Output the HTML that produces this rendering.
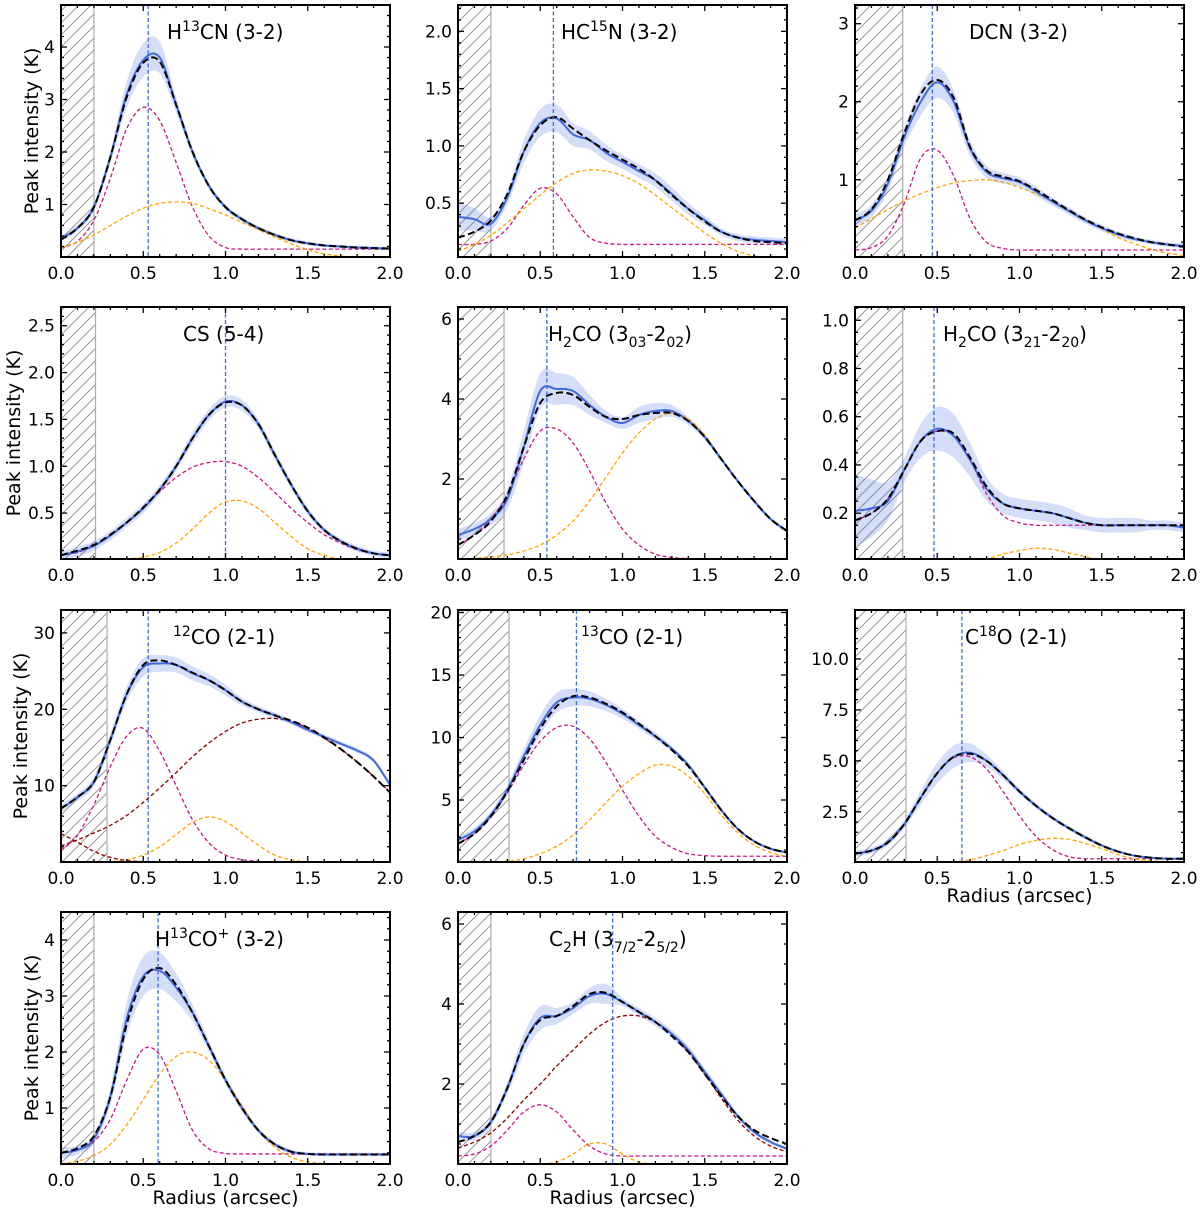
<!DOCTYPE html>
<html><head><meta charset="utf-8"><style>
html,body{margin:0;padding:0;background:#fff;}
svg{display:block;font-family:"DejaVu Sans","Liberation Sans",sans-serif;}
</style></head>
<body>
<svg id="fig" width="1200" height="1212" viewBox="0 0 1200 1212" xmlns="http://www.w3.org/2000/svg">
<defs>
<pattern id="hatch" patternUnits="userSpaceOnUse" width="12" height="12">
<path d="M-3,15 L15,-3 M-3,3 L3,-3 M9,15 L15,9" stroke="#999" stroke-width="1" fill="none"/>
</pattern>
</defs>
</svg>
<script>
// shared radius grid (arcsec)
const radius = [0,0.1,0.2,0.3,0.4,0.5,0.6,0.7,0.8,0.9,1.0,1.1,1.2,1.3,1.4,1.5,1.6,1.7,1.8,1.9,2.0];
const xTicks = [0,0.5,1.0,1.5,2.0];
const xTickLabels = ["0.0","0.5","1.0","1.5","2.0"];

// H13CN (3-2)
const h13cn_obs = [0.35,0.55,0.95,1.9,3.1,3.75,3.8,2.9,2.0,1.35,0.95,0.72,0.55,0.42,0.32,0.26,0.22,0.2,0.18,0.17,0.16];
const h13cn_fit = [0.33,0.55,0.95,1.9,3.05,3.7,3.72,2.9,2.0,1.35,0.95,0.72,0.55,0.42,0.32,0.26,0.22,0.2,0.18,0.17,0.16];
const h13cn_c1 = [0.17,0.3,0.7,1.5,2.45,2.85,2.6,1.8,0.95,0.4,0.18,0.15,0.15,0.15,0.15,0.15,0.15,0.15,0.15,0.15,0.15];
const h13cn_c2 = [0.18,0.28,0.42,0.6,0.78,0.93,1.02,1.05,1.02,0.92,0.8,0.66,0.52,0.38,0.25,0.14,0.06,0.02,0,0,0];
const h13cn_err = [0.05,0.06,0.08,0.12,0.25,0.32,0.3,0.15,0.08,0.06,0.05,0.05,0.04,0.04,0.04,0.04,0.03,0.03,0.03,0.03,0.03];
// HC15N (3-2)
const hc15n_obs = [0.38,0.36,0.32,0.55,0.95,1.2,1.24,1.1,1.05,0.94,0.86,0.78,0.7,0.58,0.45,0.35,0.25,0.2,0.18,0.17,0.16];
const hc15n_fit = [0.2,0.25,0.35,0.58,0.95,1.18,1.25,1.15,1.05,0.96,0.88,0.8,0.7,0.57,0.45,0.34,0.25,0.2,0.17,0.16,0.15];
const hc15n_c1 = [0.14,0.14,0.17,0.28,0.48,0.63,0.58,0.38,0.2,0.15,0.14,0.14,0.14,0.14,0.14,0.14,0.14,0.14,0.14,0.14,0.14];
const hc15n_c2 = [0.08,0.14,0.22,0.33,0.45,0.57,0.68,0.76,0.79,0.78,0.74,0.67,0.57,0.46,0.35,0.24,0.15,0.08,0.04,0.02,0.01];
const hc15n_err = [0.12,0.1,0.06,0.06,0.1,0.12,0.12,0.1,0.08,0.07,0.06,0.06,0.06,0.06,0.05,0.04,0.03,0.03,0.03,0.03,0.03];
// DCN (3-2)
const dcn_obs = [0.48,0.6,0.95,1.55,2.0,2.25,2.0,1.4,1.1,1.02,0.97,0.85,0.72,0.6,0.48,0.38,0.3,0.24,0.2,0.17,0.15];
const dcn_fit = [0.48,0.62,1.0,1.6,2.1,2.28,2.05,1.42,1.12,1.04,0.98,0.87,0.74,0.61,0.49,0.39,0.31,0.25,0.2,0.17,0.14];
const dcn_c1 = [0.1,0.13,0.28,0.7,1.28,1.38,1.05,0.5,0.2,0.12,0.1,0.1,0.1,0.1,0.1,0.1,0.1,0.1,0.1,0.1,0.1];
const dcn_c2 = [0.38,0.5,0.62,0.73,0.82,0.9,0.96,0.99,1.0,0.97,0.9,0.82,0.72,0.6,0.48,0.37,0.26,0.18,0.11,0.06,0.03];
const dcn_err = [0.08,0.08,0.1,0.12,0.18,0.2,0.15,0.1,0.08,0.07,0.06,0.06,0.05,0.05,0.04,0.04,0.04,0.03,0.03,0.03,0.03];
// CS (5-4)
const cs_obs = [0.05,0.09,0.15,0.26,0.4,0.55,0.75,1.0,1.3,1.55,1.69,1.65,1.45,1.12,0.8,0.52,0.32,0.2,0.12,0.07,0.05];
const cs_fit = [0.05,0.1,0.16,0.27,0.4,0.56,0.75,1.0,1.3,1.55,1.68,1.65,1.45,1.12,0.8,0.52,0.32,0.2,0.12,0.07,0.05];
const cs_c1 = [0.05,0.08,0.15,0.26,0.4,0.56,0.73,0.88,0.99,1.04,1.05,1.0,0.88,0.72,0.55,0.4,0.27,0.18,0.11,0.07,0.05];
const cs_c2 = [0,0,0,0,0.01,0.03,0.08,0.18,0.33,0.5,0.62,0.63,0.55,0.4,0.25,0.12,0.05,0.01,0,0,0];
const cs_err = [0.04,0.05,0.05,0.05,0.05,0.05,0.05,0.05,0.06,0.06,0.06,0.06,0.05,0.05,0.04,0.04,0.03,0.03,0.03,0.03,0.03];
// H2CO (3_03-2_02)
const h2coa_obs = [0.6,0.75,1.0,1.5,2.8,4.2,4.25,4.2,3.85,3.55,3.4,3.6,3.7,3.7,3.45,3.05,2.5,1.95,1.45,1.0,0.7];
const h2coa_fit = [0.35,0.6,0.95,1.6,2.8,3.9,4.15,4.1,3.8,3.55,3.5,3.6,3.65,3.65,3.45,3.05,2.5,1.95,1.45,1.0,0.7];
const h2coa_c1 = [0.35,0.6,1.0,1.6,2.5,3.2,3.25,2.9,2.2,1.4,0.75,0.35,0.12,0.04,0.01,0,0,0,0,0,0];
const h2coa_c2 = [0,0.02,0.05,0.1,0.2,0.35,0.6,0.95,1.45,2.05,2.65,3.15,3.5,3.65,3.5,3.1,2.5,1.95,1.45,1.0,0.7];
const h2coa_err = [0.15,0.15,0.15,0.25,0.4,0.45,0.4,0.35,0.25,0.15,0.15,0.2,0.2,0.15,0.1,0.08,0.06,0.05,0.05,0.05,0.05];
// H2CO (3_21-2_20)
const h2cob_obs = [0.21,0.22,0.25,0.38,0.5,0.55,0.52,0.42,0.3,0.24,0.22,0.21,0.2,0.18,0.16,0.15,0.15,0.15,0.15,0.15,0.14];
const h2cob_fit = [0.17,0.2,0.26,0.38,0.5,0.54,0.53,0.43,0.31,0.24,0.22,0.21,0.2,0.18,0.16,0.15,0.15,0.15,0.15,0.15,0.15];
const h2cob_c1 = [0.17,0.2,0.26,0.38,0.5,0.54,0.52,0.42,0.28,0.19,0.16,0.15,0.15,0.15,0.15,0.15,0.15,0.15,0.15,0.15,0.15];
const h2cob_c2 = [0,0,0,0,0,0,0,0,0.01,0.03,0.045,0.055,0.05,0.035,0.02,0.005,0,0,0,0,0];
const h2cob_err = [0.15,0.12,0.08,0.05,0.07,0.09,0.09,0.07,0.05,0.04,0.04,0.04,0.04,0.04,0.03,0.03,0.03,0.03,0.02,0.02,0.02];
// 12CO (2-1)
const co12_obs = [7,8.5,10.5,16,22,25.5,26,25.8,24.7,23.8,22.5,21,20,19.2,18.3,17.3,16.4,15.5,14.6,13.3,10.1];
const co12_fit = [7,8.5,10.5,16,22,25.8,26.4,25.8,24.8,23.8,22.5,21,20,19.2,18.5,17.6,16.3,14.8,13.1,11.2,9.1];
const co12_c1 = [1.5,3.5,7.5,12.5,16.5,17.5,14.5,10,5.5,2.5,0.9,0.3,0.1,0,0,0,0,0,0,0,0];
const co12_c2 = [0,0,0,0.05,0.3,0.9,2.0,3.6,5.2,5.9,5.3,3.8,2.2,0.9,0.3,0.05,0,0,0,0,0];
const co12_c3 = [2.1,2.9,3.8,4.8,6.1,7.8,9.7,11.7,13.8,15.6,17.1,18.2,18.7,18.8,18.4,17.5,16.2,14.8,13.1,11.2,9.1];
const co12_c4 = [3.7,2.6,1.4,0.6,0.2,0.05,0,0,0,0,0,0,0,0,0,0,0,0,0,0,0];
const co12_err = [0.5,0.5,0.6,0.8,1.0,1.2,1.1,1.0,0.9,0.8,0.7,0.5,0.4,0.4,0.3,0.3,0.3,0.3,0.3,0.3,0.3];
// 13CO (2-1)
const co13_obs = [1.8,2.5,3.8,5.8,8.5,11,12.8,13.2,13.1,12.6,11.9,11,10.1,9.1,7.8,6,4.2,2.7,1.7,1.1,0.8];
const co13_fit = [1.5,2.3,3.7,5.7,8.2,10.7,12.5,13.3,13.2,12.7,12,11.1,10.1,9,7.7,6,4.2,2.7,1.7,1.1,0.8];
const co13_c1 = [1.5,2.3,3.7,5.6,7.8,9.7,10.8,10.9,9.9,8,5.8,3.7,2.1,1.2,0.7,0.55,0.5,0.5,0.5,0.5,0.5];
const co13_c2 = [0,0,0.05,0.1,0.3,0.7,1.3,2.2,3.4,4.8,6.1,7.1,7.8,7.7,6.9,5.5,3.8,2.4,1.4,0.8,0.5];
const co13_err = [0.3,0.3,0.3,0.4,0.6,0.8,0.8,0.7,0.6,0.5,0.4,0.3,0.3,0.2,0.2,0.2,0.2,0.1,0.1,0.1,0.1];
// C18O (2-1)
const c18o_obs = [0.45,0.6,1.0,1.9,3.2,4.4,5.2,5.4,5.0,4.3,3.5,2.8,2.2,1.7,1.25,0.85,0.55,0.35,0.25,0.2,0.2];
const c18o_fit = [0.45,0.6,1.0,1.9,3.2,4.4,5.2,5.35,5.0,4.3,3.5,2.8,2.2,1.7,1.25,0.85,0.55,0.35,0.25,0.2,0.2];
const c18o_c1 = [0.45,0.6,1.0,1.9,3.2,4.4,5.15,5.2,4.6,3.5,2.3,1.3,0.65,0.3,0.2,0.2,0.2,0.2,0.2,0.2,0.2];
const c18o_c2 = [0,0,0,0,0,0,0.05,0.15,0.35,0.6,0.9,1.1,1.2,1.15,0.95,0.7,0.4,0.2,0.1,0.05,0];
const c18o_err = [0.15,0.15,0.15,0.2,0.35,0.5,0.55,0.45,0.3,0.2,0.15,0.12,0.1,0.1,0.1,0.08,0.06,0.05,0.05,0.05,0.05];
// H13CO+ (3-2)
const h13cop_obs = [0.2,0.25,0.45,1.2,2.6,3.35,3.45,3.15,2.7,2.1,1.5,1.0,0.6,0.35,0.22,0.18,0.17,0.17,0.17,0.17,0.17];
const h13cop_fit = [0.2,0.28,0.5,1.2,2.5,3.3,3.5,3.2,2.7,2.1,1.5,1.0,0.6,0.35,0.22,0.18,0.17,0.17,0.17,0.17,0.17];
const h13cop_c1 = [0.2,0.25,0.4,0.8,1.5,2.05,1.95,1.3,0.6,0.27,0.19,0.18,0.18,0.18,0.18,0.18,0.18,0.18,0.18,0.18,0.18];
const h13cop_c2 = [0,0.05,0.15,0.35,0.7,1.15,1.6,1.92,2.0,1.85,1.5,1.05,0.6,0.3,0.12,0.04,0.01,0,0,0,0];
const h13cop_err = [0.1,0.08,0.08,0.15,0.3,0.35,0.33,0.25,0.15,0.1,0.08,0.06,0.05,0.05,0.04,0.03,0.03,0.03,0.03,0.03,0.03];
// C2H (3_7/2-2_5/2)
const c2h_obs = [0.7,0.7,1.05,1.9,3.0,3.65,3.7,3.9,4.2,4.25,4.05,3.8,3.55,3.25,2.85,2.3,1.75,1.2,0.8,0.55,0.38];
const c2h_fit = [0.55,0.7,1.05,1.9,3.0,3.6,3.7,3.95,4.25,4.28,4.05,3.8,3.55,3.2,2.8,2.25,1.7,1.2,0.85,0.65,0.5];
const c2h_c1 = [0.2,0.25,0.45,0.85,1.3,1.48,1.3,0.85,0.45,0.25,0.2,0.2,0.2,0.2,0.2,0.2,0.2,0.2,0.2,0.2,0.2];
const c2h_c2 = [0,0,0,0,0,0,0.05,0.25,0.5,0.5,0.25,0.05,0,0,0,0,0,0,0,0,0];
const c2h_c3 = [0.4,0.55,0.78,1.15,1.6,2.0,2.45,2.85,3.25,3.55,3.7,3.7,3.55,3.25,2.8,2.25,1.65,1.1,0.7,0.45,0.3];
const c2h_err = [0.1,0.1,0.1,0.15,0.25,0.3,0.2,0.15,0.2,0.25,0.1,0.1,0.1,0.1,0.1,0.1,0.08,0.06,0.05,0.05,0.05];

const panels = [
 {id:"h13cn", L:61, T:5, ymin:0, ymax:4.8, major:1, nd:5, fmt:0, hatch:0.2, vline:0.53, tx:106, ylx:31,
  title:'H<tspan font-size="14" dy="-8">13</tspan><tspan dy="8">CN (3-2)</tspan>', yl:true, xl:false,
  obs:h13cn_obs, fit:h13cn_fit, comps:[[h13cn_c1,"#c71585"],[h13cn_c2,"#ffa500"]], err:h13cn_err},
 {id:"hc15n", L:458, T:5, ymin:0.03, ymax:2.23, major:0.5, nd:5, fmt:1, hatch:0.2, vline:0.58, tx:103,
  title:'HC<tspan font-size="14" dy="-8">15</tspan><tspan dy="8">N (3-2)</tspan>', yl:false, xl:false,
  obs:hc15n_obs, fit:hc15n_fit, comps:[[hc15n_c1,"#c71585"],[hc15n_c2,"#ffa500"]], err:hc15n_err},
 {id:"dcn", L:855, T:5, ymin:0.01, ymax:3.24, major:1, nd:5, fmt:0, hatch:0.29, vline:0.47, tx:114,
  title:'DCN (3-2)', yl:false, xl:false,
  obs:dcn_obs, fit:dcn_fit, comps:[[dcn_c1,"#c71585"],[dcn_c2,"#ffa500"]], err:dcn_err},
 {id:"cs", L:61, T:307, ymin:0.01, ymax:2.7, major:0.5, nd:5, fmt:1, hatch:0.21, vline:1.0, tx:122, ylx:13,
  title:'CS (5-4)', yl:true, xl:false,
  obs:cs_obs, fit:cs_fit, comps:[[cs_c1,"#c71585"],[cs_c2,"#ffa500"]], err:cs_err},
 {id:"h2co303", L:458, T:307, ymin:0, ymax:6.3, major:2, nd:4, fmt:0, hatch:0.28, vline:0.54, tx:90,
  title:'H<tspan font-size="14" dy="6">2</tspan><tspan dy="-6">CO (3</tspan><tspan font-size="14" dy="6">03</tspan><tspan dy="-6">-2</tspan><tspan font-size="14" dy="6">02</tspan><tspan dy="-6">)</tspan>', yl:false, xl:false,
  obs:h2coa_obs, fit:h2coa_fit, comps:[[h2coa_c1,"#c71585"],[h2coa_c2,"#ffa500"]], err:h2coa_err},
 {id:"h2co321", L:855, T:307, ymin:0.01, ymax:1.055, major:0.2, nd:4, fmt:1, hatch:0.29, vline:0.48, tx:88,
  title:'H<tspan font-size="14" dy="6">2</tspan><tspan dy="-6">CO (3</tspan><tspan font-size="14" dy="6">21</tspan><tspan dy="-6">-2</tspan><tspan font-size="14" dy="6">20</tspan><tspan dy="-6">)</tspan>', yl:false, xl:false,
  obs:h2cob_obs, fit:h2cob_fit, comps:[[h2cob_c1,"#c71585"],[h2cob_c2,"#ffa500"]], err:h2cob_err},
 {id:"co12", L:61, T:610, ymin:0, ymax:33, major:10, nd:5, fmt:0, hatch:0.28, vline:0.53, tx:112, ylx:20,
  title:'<tspan font-size="14" dy="-8">12</tspan><tspan dy="8">CO (2-1)</tspan>', yl:true, xl:false,
  obs:co12_obs, fit:co12_fit, comps:[[co12_c1,"#c71585"],[co12_c2,"#ffa500"],[co12_c3,"#8b0000"],[co12_c4,"#8b0000"]], err:co12_err},
 {id:"co13", L:458, T:610, ymin:0.04, ymax:20.2, major:5, nd:5, fmt:0, hatch:0.31, vline:0.72, tx:123,
  title:'<tspan font-size="14" dy="-8">13</tspan><tspan dy="8">CO (2-1)</tspan>', yl:false, xl:false,
  obs:co13_obs, fit:co13_fit, comps:[[co13_c1,"#c71585"],[co13_c2,"#ffa500"]], err:co13_err},
 {id:"c18o", L:855, T:610, ymin:0.04, ymax:12.4, major:2.5, nd:5, fmt:1, hatch:0.31, vline:0.65, tx:110,
  title:'C<tspan font-size="14" dy="-8">18</tspan><tspan dy="8">O (2-1)</tspan>', yl:false, xl:true,
  obs:c18o_obs, fit:c18o_fit, comps:[[c18o_c1,"#c71585"],[c18o_c2,"#ffa500"]], err:c18o_err},
 {id:"h13cop", L:61, T:912, ymin:0, ymax:4.5, major:1, nd:5, fmt:0, hatch:0.2, vline:0.59, tx:94, ylx:31,
  title:'H<tspan font-size="14" dy="-8">13</tspan><tspan dy="8">CO</tspan><tspan font-size="14" dy="-8">+</tspan><tspan dy="8">  (3-2)</tspan>', yl:true, xl:true,
  obs:h13cop_obs, fit:h13cop_fit, comps:[[h13cop_c1,"#c71585"],[h13cop_c2,"#ffa500"]], err:h13cop_err},
 {id:"c2h", L:458, T:912, ymin:0, ymax:6.3, major:2, nd:4, fmt:0, hatch:0.2, vline:0.94, tx:91,
  title:'C<tspan font-size="14" dy="6">2</tspan><tspan dy="-6">H (3</tspan><tspan font-size="14" dy="6">7/2</tspan><tspan dy="-6">-2</tspan><tspan font-size="14" dy="6">5/2</tspan><tspan dy="-6">)</tspan>', yl:false, xl:true,
  obs:c2h_obs, fit:c2h_fit, comps:[[c2h_c1,"#c71585"],[c2h_c2,"#ffa500"],[c2h_c3,"#8b0000"]], err:c2h_err}
];

const W = 329, H = 252;
const NS = "http://www.w3.org/2000/svg";
const svg = document.getElementById("fig");
function mk(tag, attrs, parent){
  const e = document.createElementNS(NS, tag);
  for (const k in attrs) e.setAttribute(k, attrs[k]);
  parent.appendChild(e);
  return e;
}
function smooth(pts){
  let d = "M" + pts[0][0].toFixed(2) + "," + pts[0][1].toFixed(2);
  for (let i = 0; i < pts.length - 1; i++){
    const p0 = pts[Math.max(0,i-1)], p1 = pts[i], p2 = pts[i+1], p3 = pts[Math.min(pts.length-1,i+2)];
    const c1x = p1[0] + (p2[0]-p0[0])/6, c1y = p1[1] + (p2[1]-p0[1])/6;
    const c2x = p2[0] - (p3[0]-p1[0])/6, c2y = p2[1] - (p3[1]-p1[1])/6;
    d += " C" + c1x.toFixed(2) + "," + c1y.toFixed(2) + " " + c2x.toFixed(2) + "," + c2y.toFixed(2) + " " + p2[0].toFixed(2) + "," + p2[1].toFixed(2);
  }
  return d;
}

panels.forEach(function(p, pi){
  const xs = function(v){ return p.L + v/2.0*W; };
  const ys = function(v){ return p.T + H - (v - p.ymin)/(p.ymax - p.ymin)*H; };
  const g = mk("g", {}, svg);
  
  
  const clip = mk("clipPath", {id:"clip"+pi}, g);
  mk("rect", {x:p.L, y:p.T, width:W, height:H}, clip);
  const plot = mk("g", {"clip-path":"url(#clip"+pi+")"}, g);

  const hatch = mk("rect", {x:p.L, y:p.T, width:xs(p.hatch)-p.L, height:H, fill:"url(#hatch)"}, plot);
  
  
  const hl = mk("line", {x1:xs(p.hatch), x2:xs(p.hatch), y1:p.T, y2:p.T+H, stroke:"#aaa", "stroke-width":1.2}, plot);
  
  

  const up = radius.map(function(r,i){ return [xs(r), ys(p.obs[i]+p.err[i])]; });
  const lo = radius.map(function(r,i){ return [xs(r), ys(p.obs[i]-p.err[i])]; }).reverse();
  const band = mk("path", {d: smooth(up) + " L" + smooth(lo).slice(1) + " Z", fill:"#4169e1", "fill-opacity":0.22, stroke:"none"}, plot);
  
  

  p.comps.forEach(function(c, ci){
    const pts = radius.map(function(r,i){ return [xs(r), ys(c[0][i])]; });
    const cp = mk("path", {d:smooth(pts), fill:"none", stroke:c[1], "stroke-width":1.3, "stroke-dasharray":"4,2.5"}, plot);
    
    
  });

  const obsPath = mk("path", {d:smooth(radius.map(function(r,i){ return [xs(r), ys(p.obs[i])]; })), fill:"none", stroke:"#4169e1", "stroke-width":2}, plot);
  
  
  const fitPath = mk("path", {d:smooth(radius.map(function(r,i){ return [xs(r), ys(p.fit[i])]; })), fill:"none", stroke:"#000", "stroke-width":2, "stroke-dasharray":"7,3.5"}, plot);
  
  

  const vl = mk("line", {x1:xs(p.vline), x2:xs(p.vline), y1:p.T, y2:p.T+H, stroke:"#4169e1", "stroke-width":1.3, "stroke-dasharray":"4,2.5"}, plot);
  
  

  const tk = mk("g", {stroke:"#000", "stroke-width":1.3}, g);
  
  
  for (let m = 0; m <= 20; m++){
    const x = xs(m*0.1), len = (m % 5 === 0) ? 6 : 3;
    mk("line", {x1:x, x2:x, y1:p.T+H, y2:p.T+H-len}, tk);
    mk("line", {x1:x, x2:x, y1:p.T, y2:p.T+len}, tk);
  }
  const minorStep = p.major / p.nd;
  for (let k = Math.ceil(p.ymin/minorStep - 1e-6); k*minorStep <= p.ymax + 1e-9; k++){
    const v = k*minorStep, y = ys(v);
    const isMajor = Math.abs(Math.round(v/p.major)*p.major - v) < 1e-6;
    const len = isMajor ? 6 : 3;
    mk("line", {x1:p.L, x2:p.L+len, y1:y, y2:y}, tk);
    mk("line", {x1:p.L+W, x2:p.L+W-len, y1:y, y2:y}, tk);
    if (isMajor && v > 0.001){
      const t = mk("text", {x:p.L-6, y:y+6, "text-anchor":"end", "font-size":17, fill:"#000"}, g);
      
      
      t.textContent = v.toFixed(p.fmt);
    }
  }
  xTicks.forEach(function(v, i){
    const t = mk("text", {x:xs(v), y:p.T+H+22, "text-anchor":"middle", "font-size":17, fill:"#000"}, g);
    
    
    t.textContent = xTickLabels[i];
  });

  const fr = mk("rect", {x:p.L, y:p.T, width:W, height:H, fill:"none", stroke:"#000", "stroke-width":2}, g);
  
  

  const tt = mk("text", {x:p.L+p.tx, y:p.T+34, "font-size":20, fill:"#000"}, g);
  
  
  tt.innerHTML = p.title;

  if (p.yl){
    const cy = p.T + H/2;
    const yt = mk("text", {x:0, y:0, transform:"translate(" + (p.ylx + 7) + "," + cy + ") rotate(-90)", "text-anchor":"middle", "font-size":19, fill:"#000"}, g);
    
    
    yt.textContent = "Peak intensity (K)";
  }
  if (p.xl){
    const xt = mk("text", {x:p.L+W/2, y:p.T+H+40, "text-anchor":"middle", "font-size":19, fill:"#000"}, g);
    
    
    xt.textContent = "Radius (arcsec)";
  }
});
</script>
</body></html>
